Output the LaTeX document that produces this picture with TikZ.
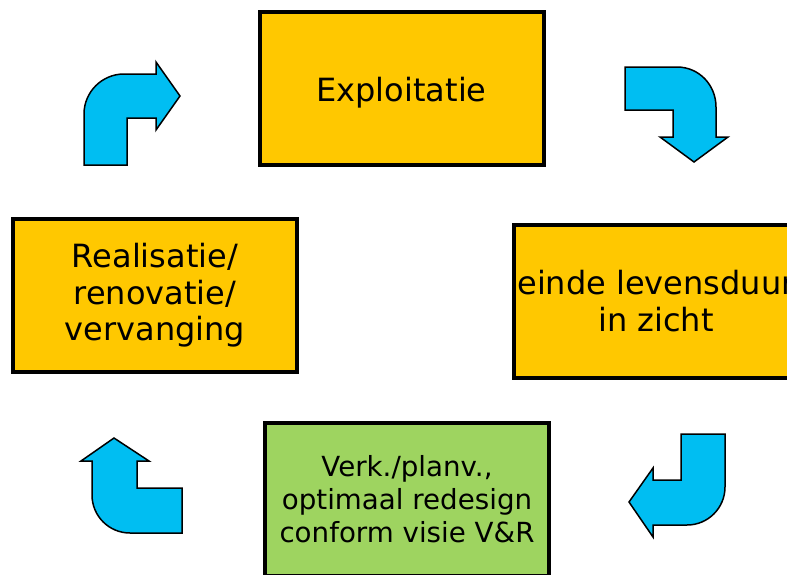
\documentclass[tikz,border=0pt]{standalone}
\usepackage{fontspec}
\setmainfont{DejaVu Sans}
\definecolor{boxyellow}{RGB}{255,200,0}
\definecolor{boxgreen}{RGB}{158,212,96}
\definecolor{arrowblue}{RGB}{0,190,242}
\begin{document}
\begin{tikzpicture}[x=1pt,y=-1pt,
  stagebox/.style={draw=black,line width=4pt,fill=boxyellow,align=center,inner sep=0pt,
    minimum width=284pt,minimum height=153pt,font=\fontsize{32}{36.5}\selectfont},
  greenbox/.style={stagebox,fill=boxgreen,font=\fontsize{27.7}{33}\selectfont},
  bentarrow/.style={draw=black,line width=1.5pt,fill=arrowblue,line join=miter}]
\useasboundingbox (0,0) rectangle (787,574);
\begin{scope}
\clip (0,0) rectangle (787,574);
\node[stagebox] (expl) at (401.5,88) {\raisebox{-5pt}[\height][\depth]{Exploitatie}};
\node[stagebox] (einde) at (656,301) {einde levensduur\\in zicht};
\node[greenbox] (verk) at (407,499) {Verk./planv.,\\optimaal redesign\\ conform visie V\&R};
\node[stagebox] (real) at (155,295.5) {Realisatie/\\renovatie/\\vervanging};
\end{scope}
% top-left arrow
\draw[bentarrow] (84,165) -- (84,114) .. controls (84,92) and (102,74) .. (124,74)
  -- (156,74) -- (156,62) -- (180,96) -- (156,130) -- (156,118) -- (127,118) -- (127,165) -- cycle;
% top-right arrow
\draw[bentarrow] (625,67) -- (677,67) .. controls (699,67) and (716,85) .. (716,107)
  -- (716,137) -- (728,137) -- (694,162) -- (660,137) -- (673,137) -- (673,110) -- (625,110) -- cycle;
% bottom-right arrow
\draw[bentarrow] (681,434) -- (725,434) -- (725,487) .. controls (725,508) and (708,525) .. (687,525)
  -- (653,525) -- (653,537) -- (629,502) -- (653,468) -- (653,480) -- (681,480) -- cycle;
% bottom-left arrow
\draw[bentarrow] (114,438) -- (149,461) -- (137,461) -- (137,488) -- (182,488) -- (182,533)
  -- (130,533) .. controls (109,533) and (92,516) .. (92,495) -- (92,461) -- (81,461) -- cycle;
\end{tikzpicture}
\end{document}
